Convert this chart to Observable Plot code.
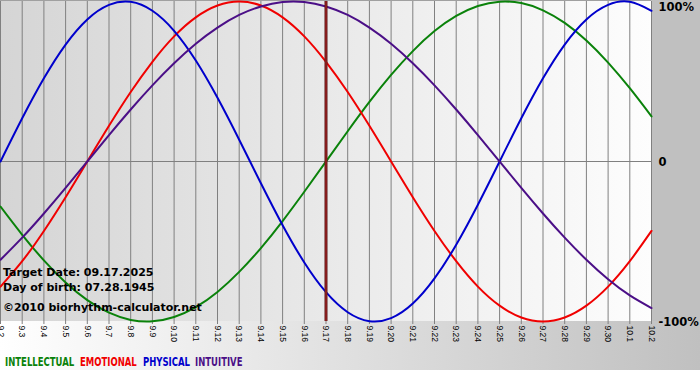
<!DOCTYPE html>
<html><head><meta charset="utf-8">
<script src="https://cdn.jsdelivr.net/npm/d3@7"></script>
<script src="https://cdn.jsdelivr.net/npm/@observablehq/plot@0.6"></script>
<style>
body{margin:0;background:#fff;}
#wrap{position:relative;width:700px;height:380px;overflow:hidden;background:#fff;}
#bgPlot{position:absolute;left:0;top:0;width:651px;height:321px;background:linear-gradient(to right,#d5d5d5,#fdfdfd);}
#bgRight{position:absolute;left:651px;top:0;width:49px;height:321px;background:#c0c0c0;}
#bgBottom{position:absolute;left:0;top:321px;width:700px;height:49px;background:linear-gradient(to right,#ffffff,#c0c0c0);}
#chart{position:absolute;left:0;top:0;}
.info{position:absolute;left:3px;font:bold 11px "DejaVu Sans";line-height:11px;color:#000;white-space:nowrap;}
.leg{position:absolute;top:356px;font:bold 12.5px "DejaVu Sans";line-height:12px;white-space:nowrap;transform:scaleX(0.68);transform-origin:0 50%;}
</style>
</head><body>
<div id="wrap">
  <div id="bgPlot"></div><div id="bgRight"></div><div id="bgBottom"></div>
  <div id="chart"></div>
  <div class="info" style="top:267px">Target Date: 09.17.2025</div>
  <div class="info" style="top:282px">Day of birth: 07.28.1945</div>
  <div class="info" style="top:302px">©2010 biorhythm-calculator.net</div>
  <div id="legend"></div>
</div>
<script>
const dayLabels = ["9.2","9.3","9.4","9.5","9.6","9.7","9.8","9.9","9.10","9.11","9.12","9.13","9.14","9.15","9.16","9.17","9.18","9.19","9.20","9.21","9.22","9.23","9.24","9.25","9.26","9.27","9.28","9.29","9.30","10.1","10.2"];
const targetLabel = "9.17";
const physical = [0, 27.0, 52.0, 73.1, 88.8, 97.9, 99.8, 94.2, 81.7, 63.1, 39.8, 13.6, -13.6, -39.8, -63.1, -81.7, -94.2, -99.8, -97.9, -88.8, -73.1, -52.0, -27.0, 0, 27.0, 52.0, 73.1, 88.8, 97.9, 99.8, 94.2];
const emotional = [-78.2, -62.3, -43.4, -22.3, 0, 22.3, 43.4, 62.3, 78.2, 90.1, 97.5, 100, 97.5, 90.1, 78.2, 62.3, 43.4, 22.3, 0, -22.3, -43.4, -62.3, -78.2, -90.1, -97.5, -100, -97.5, -90.1, -78.2, -62.3, -43.4];
const intellectual = [-28.2, -45.8, -61.8, -75.6, -86.6, -94.5, -99.0, -99.9, -97.2, -91.0, -81.5, -69.0, -54.1, -37.2, -18.9, 0, 18.9, 37.2, 54.1, 69.0, 81.5, 91.0, 97.2, 99.9, 99.0, 94.5, 86.6, 75.6, 61.8, 45.8, 28.2];
const intuitive = [-61.4, -47.6, -32.5, -16.5, 0, 16.5, 32.5, 47.6, 61.4, 73.6, 83.7, 91.6, 96.9, 99.7, 99.7, 96.9, 91.6, 83.7, 73.6, 61.4, 47.6, 32.5, 16.5, 0, -16.5, -32.5, -47.6, -61.4, -73.6, -83.7, -91.6];
const seriesNames = ["INTELLECTUAL","EMOTIONAL","PHYSICAL","INTUITIVE"];
const seriesColors = ["#0a820a","#f00000","#0000cc","#4b0f87"];

const idx = dayLabels.map((d, i) => i);
const targetIdx = dayLabels.indexOf(targetLabel);
const seriesData = [intellectual, emotional, physical, intuitive];
const fmtY = d => d === 0 ? "0" : d + "%";

const chart = Plot.plot({
  width: 700, height: 350,
  marginLeft: 0, marginRight: 49, marginTop: 1, marginBottom: 29,
  style: {background: "transparent", overflow: "visible"},
  x: {type: "linear", domain: [0, dayLabels.length - 1]},
  y: {domain: [-100, 100]},
  marks: [
    Plot.ruleX(idx, {x: d => d, stroke: "#808080", strokeWidth: 1, strokeOpacity: 1}),
    Plot.ruleY([0], {stroke: "#808080", strokeWidth: 1}),
    Plot.ruleY([100], {stroke: "#a0a0a0", strokeWidth: 1, dy: -1}),
    Plot.axisX(idx, {tickFormat: i => dayLabels[i], tickRotate: 90, tickSize: 3, tickPadding: 1, fontSize: 8.5, fontFamily: "Liberation Sans", stroke: "#808080", color: "#000", label: null}),
    Plot.axisY([-100, 0], {anchor: "right", tickFormat: fmtY, tickSize: 0, tickPadding: 7, fontSize: 11.5, fontWeight: "bold", fontFamily: "DejaVu Sans", textAnchor: "start", label: null, dy: 1}),
    Plot.axisY([100], {anchor: "right", tickFormat: fmtY, tickSize: 0, tickPadding: 7, fontSize: 11.5, fontWeight: "bold", fontFamily: "DejaVu Sans", textAnchor: "start", label: null, dy: 6}),
    ...seriesData.map((s, k) => Plot.line(s, {x: (d, i) => i, y: d => d, stroke: seriesColors[k], strokeWidth: 2, curve: "natural"})),
    Plot.ruleX([targetIdx], {x: d => d, y1: -100, y2: 100, stroke: "#5a1818", strokeWidth: 3}),
    Plot.ruleX([targetIdx], {x: d => d, y1: -100, y2: 100, stroke: "#b02020", strokeWidth: 1})
  ]
});
document.getElementById("chart").appendChild(chart);

const legendX = [5, 80, 143, 195];
const legend = document.getElementById("legend");
seriesNames.forEach((n, k) => {
  const s = document.createElement("div");
  s.className = "leg";
  s.style.left = legendX[k] + "px";
  s.style.color = seriesColors[k];
  s.textContent = n;
  legend.appendChild(s);
});
</script>
</body></html>
